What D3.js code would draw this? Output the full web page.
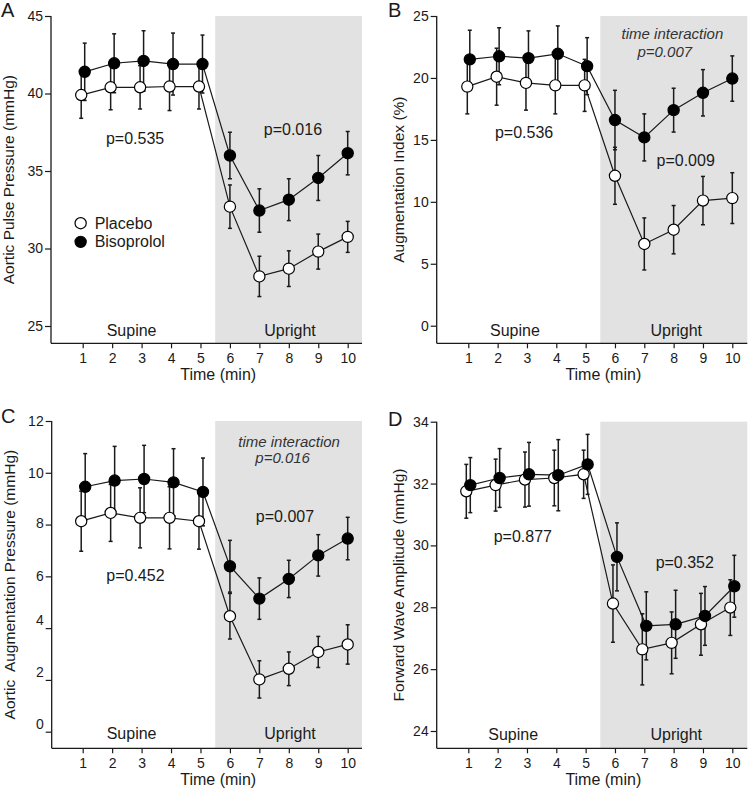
<!DOCTYPE html>
<html><head><meta charset="utf-8">
<script src="https://cdn.jsdelivr.net/npm/d3@7"></script>
<style>
html,body{margin:0;padding:0;background:#fff;}
svg{display:block;font-family:"Liberation Sans",Arial,sans-serif;}
</style></head>
<body><svg id="chart" width="748" height="790"></svg>
<script>
// ---------- data ----------
const timePoints = [1, 2, 3, 4, 5, 6, 7, 8, 9, 10];
const xTickLabels = ["1", "2", "3", "4", "5", "6", "7", "8", "9", "10"];
const seriesNames = ["Placebo", "Bisoprolol"];
const panelLetters = ["A", "B", "C", "D"];
const yTitles = ["Aortic Pulse Pressure (mmHg)", "Augmentation Index (%)",
                 "Aortic  Augmentation Pressure (mmHg)", "Forward Wave Amplitude (mmHg)"];
const xTitle = "Time (min)";
const phaseLabels = ["Supine", "Upright"];

const yTicksA = [25, 30, 35, 40, 45];
const yTicksB = [0, 5, 10, 15, 20, 25];
const yTicksC = [0, 2, 4, 6, 8, 10, 12];
const yTicksD = [24, 26, 28, 30, 32, 34];

const placeboA   = [39.9, 40.4, 40.4, 40.45, 40.45, 32.7, 28.2, 28.7, 29.8, 30.75];
const placeboSeA = [1.5, 1.45, 1.4, 1.55, 1.45, 1.4, 1.3, 1.15, 1.13, 1.0];
const bisoA      = [41.4, 41.95, 42.1, 41.9, 41.9, 36.0, 32.45, 33.15, 34.55, 36.15];
const bisoSeA    = [1.85, 1.9, 1.95, 2.0, 1.87, 1.5, 1.4, 1.35, 1.45, 1.4];

const placeboB   = [19.3, 20.1, 19.6, 19.4, 19.4, 12.1, 6.6, 7.75, 10.1, 10.3];
const placeboSeB = [2.2, 2.3, 2.2, 2.3, 2.1, 2.3, 2.1, 1.95, 1.95, 2.05];
const bisoB      = [21.5, 21.75, 21.6, 21.95, 20.95, 16.6, 15.2, 17.4, 18.8, 19.95];
const bisoSeB    = [2.35, 2.3, 2.2, 2.25, 2.3, 2.4, 1.9, 1.77, 1.87, 1.83];

const placeboC   = [8.13, 8.45, 8.26, 8.26, 8.13, 4.46, 2.02, 2.43, 3.08, 3.37];
const placeboSeC = [1.16, 1.1, 1.16, 1.2, 1.08, 0.88, 0.72, 0.65, 0.6, 0.76];
const bisoC      = [9.46, 9.7, 9.76, 9.63, 9.26, 6.39, 5.14, 5.9, 6.81, 7.46];
const bisoSeC    = [1.28, 1.32, 1.3, 1.3, 1.31, 1.0, 0.8, 0.72, 0.8, 0.82];

const placeboD   = [31.75, 31.95, 32.13, 32.18, 32.3, 28.12, 26.64, 26.85, 27.45, 27.99];
const placeboSeD = [0.87, 0.84, 0.89, 0.9, 0.78, 1.25, 1.15, 1.0, 1.0, 0.9];
const bisoD      = [31.95, 32.18, 32.3, 32.27, 32.62, 29.63, 27.4, 27.45, 27.72, 28.68];
const bisoSeD    = [0.89, 0.95, 1.03, 1.15, 0.97, 1.1, 1.1, 1.1, 0.95, 1.0];

// p-value annotations (text, italic flag), placed in data coordinates
const notesA = [["p=0.535", false, 2.78, 36.74], ["p=0.016", false, 8.14, 37.32]];
const notesB = [["time interaction", true, 7.96, 23.12], ["p=0.007", true, 7.70, 21.71],
                ["p=0.536", false, 2.90, 15.13], ["p=0.009", false, 8.41, 12.92]];
const notesC = [["time interaction", true, 8.01, 11.01], ["p=0.016", true, 7.79, 10.37],
                ["p=0.007", false, 7.87, 8.09], ["p=0.452", false, 2.79, 5.83]];
const notesD = [["p=0.877", false, 2.86, 30.12], ["p=0.352", false, 8.38, 29.26]];

// ---------- layout ----------
const panels = [
  {letter: panelLetters[0], title: yTitles[0], axisX: 51, right: 362, top: 16, bottom: 343.3,
   x0: 82.7, x1: 347.7, yDom: [25, 45], yRange: [326, 16], ticks: yTicksA,
   series: [[placeboA, placeboSeA], [bisoA, bisoSeA]], notes: notesA, phaseY: 24.35,
   phaseX: [2.66, 8.04], letterY: 17, legend: true, offs: [[-1.5, 2], [0, 0]], labelShift: () => 0},
  {letter: panelLetters[1], title: yTitles[1], axisX: 436.7, right: 747.3, top: 16, bottom: 343.3,
   x0: 468.3, x1: 732.3, yDom: [0, 25], yRange: [325.7, 16], ticks: yTicksB,
   series: [[placeboB, placeboSeB], [bisoB, bisoSeB]], notes: notesB, phaseY: -0.83,
   phaseX: [2.59, 8.09], letterY: 17, legend: false, offs: [[-1, 1.5], [0, 0]], labelShift: () => 0},
  {letter: panelLetters[2], title: yTitles[2], axisX: 51.7, right: 362, top: 421, bottom: 748.3,
   x0: 82.7, x1: 347.7, yDom: [0, 12], yRange: [731.7, 421], ticks: yTicksC,
   series: [[placeboC, placeboSeC], [bisoC, bisoSeC]], notes: notesC, phaseY: -0.29,
   phaseX: [2.66, 8.04], letterY: 423, legend: false, offs: [[-1.5, 2.5], [0, 0]],
   labelShift: v => (v <= 4 ? -8 : (v === 8 ? -2 : 0))},
  {letter: panelLetters[3], title: yTitles[3], axisX: 436.7, right: 747.3, top: 421.7, bottom: 748.3,
   x0: 468.3, x1: 732.3, yDom: [24, 34], yRange: [731, 421.7], ticks: yTicksD,
   series: [[placeboD, placeboSeD], [bisoD, bisoSeD]], notes: notesD, phaseY: 23.71,
   phaseX: [2.53, 8.09], letterY: 426, legend: false, offs: [[-2, 2], [-2, 2]], labelShift: () => 0}
];

const svg = d3.select("#chart");
const ink = "#1a1a1a";
const R = 5.6;

panels.forEach(p => {
  const g = svg.append("g");
  const x = d3.scaleLinear().domain([1, 10]).range([p.x0, p.x1]);
  const y = d3.scaleLinear().domain(p.yDom).range(p.yRange);

  // shaded upright region
  g.append("rect").attr("x", x(5.5)).attr("y", p.top)
    .attr("width", p.right - x(5.5)).attr("height", p.bottom - p.top)
    .attr("fill", "#e2e2e2");

  // y axis
  const ya = g.append("g").attr("transform", `translate(${p.axisX},0)`)
    .call(d3.axisLeft(y).tickValues(p.ticks).tickFormat(d3.format("d")).tickSize(6).tickPadding(2));
  ya.select(".domain").remove();
  ya.selectAll("line").attr("stroke", ink).attr("stroke-width", 1.2);
  ya.selectAll("text").attr("font-size", 14).attr("fill", ink)
    .attr("font-family", "Liberation Sans, Arial, sans-serif")
    .attr("dy", d => (0.32 * 14 + p.labelShift(d)) + "px");
  g.append("line").attr("x1", p.axisX).attr("x2", p.axisX).attr("y1", p.top).attr("y2", p.bottom)
    .attr("stroke", ink).attr("stroke-width", 1.3);

  // x axis
  const xa = g.append("g").attr("transform", `translate(0,${p.bottom})`)
    .call(d3.axisBottom(x).tickValues(timePoints).tickFormat((d, i) => xTickLabels[i]).tickSize(5).tickPadding(5));
  xa.select(".domain").remove();
  xa.selectAll("line").attr("stroke", ink).attr("stroke-width", 1.2);
  xa.selectAll("text").attr("font-size", 14).attr("fill", ink)
    .attr("font-family", "Liberation Sans, Arial, sans-serif");
  g.append("line").attr("x1", p.axisX).attr("x2", p.right).attr("y1", p.bottom).attr("y2", p.bottom)
    .attr("stroke", ink).attr("stroke-width", 1.3);

  // titles
  g.append("text").attr("x", x(5.5) + 3).attr("y", p.bottom + 37).attr("text-anchor", "middle")
    .attr("font-size", 16).attr("fill", ink).text(xTitle);
  const ty = (p.top + p.bottom) / 2;
  const tx = p.axisX - (p.axisX < 100 ? 37 : 33);
  g.append("text").attr("transform", `translate(${tx},${ty}) rotate(-90)`)
    .attr("text-anchor", "middle").attr("font-size", 15.5).attr("fill", ink)
    .attr("xml:space", "preserve").style("white-space", "pre").text(p.title);
  g.append("text").attr("x", p.axisX < 100 ? 1 : 388).attr("y", p.letterY)
    .attr("font-size", 20).attr("fill", ink).text(p.letter);

  // phase labels
  phaseLabels.forEach((t, i) => {
    g.append("text").attr("x", x(p.phaseX[i])).attr("y", y(p.phaseY)).attr("text-anchor", "middle")
      .attr("font-size", 16).attr("fill", ink).text(t);
  });

  // notes
  p.notes.forEach(n => {
    g.append("text").attr("x", x(n[2])).attr("y", y(n[3])).attr("text-anchor", "middle")
      .attr("font-size", n[1] ? 15 : 16).attr("font-style", n[1] ? "italic" : "normal")
      .attr("fill", n[1] ? "#333" : ink).text(n[0]);
  });

  // series
  const pts = p.series.map((s, si) => timePoints.map((t, i) => ({
    t, v: s[0][i], se: s[1][i],
    px: x(t) + (t <= 5 ? p.offs[0][si] : p.offs[1][si])
  })));

  // error bars
  pts.forEach(arr => {
    const eb = g.append("g").attr("stroke", ink).attr("stroke-width", 1.5);
    arr.forEach(d => {
      eb.append("line").attr("x1", d.px).attr("x2", d.px).attr("y1", y(d.v - d.se)).attr("y2", y(d.v + d.se));
      [d.v - d.se, d.v + d.se].forEach(e => eb.append("line")
        .attr("x1", d.px - 2).attr("x2", d.px + 2).attr("y1", y(e)).attr("y2", y(e)));
    });
  });

  // connecting lines
  const line = d3.line().x(d => d.px).y(d => y(d.v));
  pts.forEach(arr => g.append("path").datum(arr).attr("d", line)
    .attr("fill", "none").attr("stroke", ink).attr("stroke-width", 1.2));

  // markers
  pts.forEach((arr, si) => {
    g.selectAll(null).data(arr).enter().append("circle")
      .attr("cx", d => d.px).attr("cy", d => y(d.v)).attr("r", R)
      .attr("fill", si === 0 ? "#fff" : "#000").attr("stroke", "#000").attr("stroke-width", 1.2);
  });

  // legend
  if (p.legend) {
    [[0.93, 31.63], [0.93, 30.43]].forEach((pos, si) => {
      g.append("circle").attr("cx", x(pos[0])).attr("cy", y(pos[1])).attr("r", R)
        .attr("fill", si === 0 ? "#fff" : "#000").attr("stroke", "#000").attr("stroke-width", 1.2);
      g.append("text").attr("x", x(pos[0]) + 14).attr("y", y(pos[1]) + 5.5)
        .attr("font-size", 16).attr("fill", ink).text(seriesNames[si]);
    });
  }
});
</script></body></html>
